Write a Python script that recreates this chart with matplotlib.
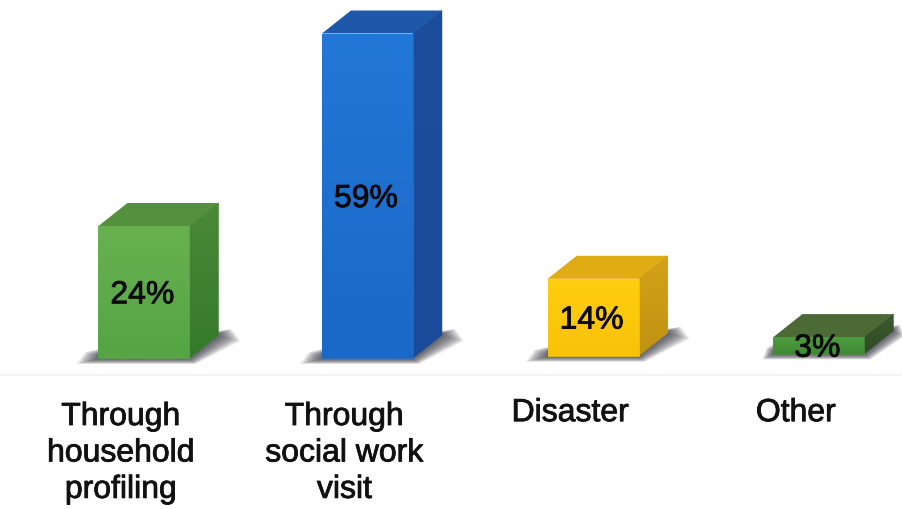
#!/usr/bin/env python3
import matplotlib
matplotlib.use("Agg")
import matplotlib.pyplot as plt
import matplotlib.patheffects as pe
import numpy as np
from matplotlib.patches import Polygon

plt.rcParams["font.family"] = ["Liberation Sans", "DejaVu Sans"]

categories = ["Through\nhousehold\nprofiling", "Through\nsocial work\nvisit", "Disaster", "Other"]
values = [24, 59, 14, 3]
value_labels = ["24%", "59%", "14%", "3%"]

# front-face top/bottom colours, then top and side faces
front_hi = ["#68B050", "#2377D6", "#FFCE10", "#4F9C3F"]
front_lo = ["#55A545", "#1A68C8", "#F8C208", "#3F8A35"]
top_col = ["#55903C", "#1F58A8", "#E0AC14", "#4B6A36"]
side_hi = ["#4A8A38", "#1D4E9E", "#D4A218", "#3C5A2E"]
side_lo = ["#35792C", "#1A4A9A", "#C09212", "#2F4A26"]

PX_X = 225.7   # px per category step
PX_Y = 5.5     # px per percent
BAR_W = 91 / PX_X
DX, DY = 29 / PX_X, 23 / PX_Y

xpos = [0, 0.99, 1.99, 2.99]
base = [0, 0, 0.4, 0.8]


def hex_rgb(c):
    return np.array(matplotlib.colors.to_rgb(c))


def gradient_poly(ax, verts, c0, c1, z=3):
    """Fill a polygon with a vertical gradient, solid mean colour underneath."""
    verts = np.array(verts)
    t = np.linspace(0, 1, 64)[:, None]
    cols = hex_rgb(c0) * (1 - t) + hex_rgb(c1) * t
    ax.add_patch(Polygon(verts, closed=True, fc=cols[32], ec=cols[32], lw=0.4, zorder=z))
    ext = [verts[:, 0].min(), verts[:, 0].max(), verts[:, 1].min(), verts[:, 1].max()]
    im = ax.imshow(cols[:, None, :], extent=ext, origin="upper", aspect="auto",
                   zorder=z + 0.1, interpolation="bilinear")
    clip = Polygon(verts, closed=True, transform=ax.transData, fc="none", ec="none")
    ax.add_patch(clip)
    im.set_clip_path(clip)


def shadow(ax, x0, x1, y, scale=1.0):
    """Soft floor shadow: stacked translucent polygons, wide and faint first."""
    for k in np.linspace(1, 0, 16):
        lx = 22 * k * scale / PX_X
        rx = 22 * k * scale / PX_X
        pad = (1 + 5 * k) / PX_Y
        pts = [(x0 - lx, y - pad),
               (x1 + 6 * k / PX_X, y - pad),
               (x1 + DX + rx, y + DY - pad),
               (x1 + DX + rx * 0.6, y + DY + pad),
               (x1, y + DY),
               (x0, y + pad + 3 / PX_Y),
               (x0 - lx * 0.6, y + pad)]
        ax.add_patch(Polygon(pts, closed=True, fc="#34343e", ec="none",
                             alpha=0.08, zorder=1))


fig = plt.figure(figsize=(9.02, 5.09), dpi=100)
ax = fig.add_axes([0, 0, 1, 1])

for i, v in enumerate(values):
    x0 = xpos[i] - BAR_W / 2
    x1 = xpos[i] + BAR_W / 2
    y0 = base[i]
    y1 = base[i] + v
    shadow(ax, x0, x1, y0, scale=0.5 if v < 5 else 1.0)
    gradient_poly(ax, [(x0, y0), (x1, y0), (x1, y1), (x0, y1)], front_hi[i], front_lo[i], z=4)
    gradient_poly(ax, [(x1, y0), (x1 + DX, y0 + DY), (x1 + DX, y1 + DY), (x1, y1)],
                  side_hi[i], side_lo[i], z=3)
    ax.add_patch(Polygon([(x0, y1), (x1, y1), (x1 + DX, y1 + DY), (x0 + DX, y1 + DY)],
                         closed=True, fc=top_col[i], ec="none", zorder=3))
    ax.text(xpos[i] - 1.5 / PX_X, y0 + v / 2 - 0.6, value_labels[i], ha="center", va="center",
            fontsize=23, color="#0a0a0a", zorder=6,
            path_effects=[pe.withStroke(linewidth=0.6, foreground="#0a0a0a")])
    label_y = -8.0 if "\n" in categories[i] else -7.3
    ax.text(xpos[i] - 23 / PX_X, label_y, categories[i], ha="center", va="top",
            fontsize=23, color="#111111", linespacing=1.28, zorder=6,
            path_effects=[pe.withStroke(linewidth=0.6, foreground="#111111")])

ax.axhline(-3.1, color="#f2f2f2", lw=1.2, zorder=0)

ax.set_xlim(-144 / PX_X, (902 - 144) / PX_X)
ax.set_ylim(-(509 - 358) / PX_Y, 358 / PX_Y)
ax.axis("off")
fig.savefig("out.png", dpi=100)
